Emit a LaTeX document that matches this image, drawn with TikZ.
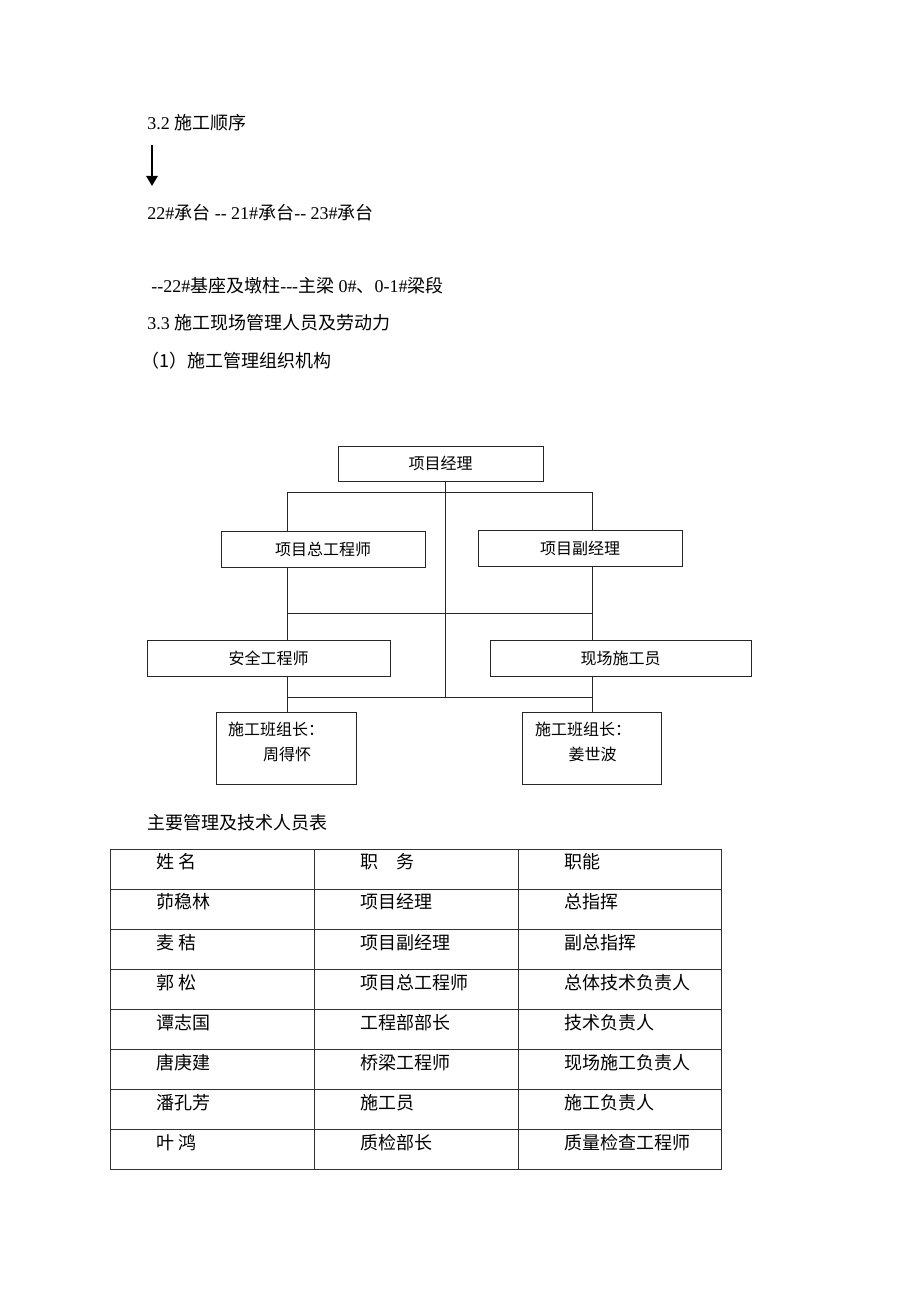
\documentclass[tikz,border=0pt]{standalone}
\usepackage{fontspec}
\setmainfont{Liberation Serif}
\newfontfamily\cjk{Noto Sans CJK SC}
\usepackage{tikz}
\usetikzlibrary{arrows.meta}
\newcommand\pxl[1]{#1*0.75pt}

\begin{document}
\begin{tikzpicture}[x=0.75pt,y=-0.75pt,
	body/.style={anchor=west,inner sep=0pt,font=\fontsize{13.5}{16}\selectfont},
	post/.style={draw=black!85,line width=0.65pt,inner sep=0pt,font=\fontsize{12}{14}\selectfont\cjk},
	cell/.style={anchor=west,inner sep=0pt,font=\fontsize{13.5}{16}\selectfont\cjk},
	link/.style={line width=0.65pt,black!85},
	grid/.style={line width=0.65pt,black!80}]
	\useasboundingbox (0,0) rectangle (920,1302);
	% Sequence
	\node[body] (seqtitle) at (147,123) {3.2 {\cjk 施工顺序}};
	\coordinate (arrtop) at (152,145);
	\coordinate (arrtip) at (152,186);
	\draw[line width=1.3pt,-{Triangle[width=8.5pt,length=7.5pt]}] (arrtop) -- (arrtip);
	\node[body] (seqa) at (147,213) {22\#{\cjk 承台} -\kern0pt- 21\#{\cjk 承台}-\kern0pt- 23\#{\cjk 承台}};
	\node[body] (seqb) at (151,286) {-\kern0pt-22\#{\cjk 基座及墩柱}-\kern0pt-\kern0pt-{\cjk 主梁} 0\#{\cjk 、}0-1\#{\cjk 梁段}};
	\node[body] (stafftitle) at (147,323) {3.3 {\cjk 施工现场管理人员及劳动力}};
	\node[body] (orgtitle) at (141,361) {\cjk （1）施工管理组织机构};
	% Org chart boxes
	\node[post,minimum width={\pxl{205}},minimum height={\pxl{35}}] (pm) at (440.5,463.5) {项目经理};
	\node[post,minimum width={\pxl{204}},minimum height={\pxl{36}}] (chief) at (323,549) {项目总工程师};
	\node[post,minimum width={\pxl{204}},minimum height={\pxl{36}}] (deputy) at (580,548) {项目副经理};
	\node[post,minimum width={\pxl{243}},minimum height={\pxl{36}}] (safety) at (268.5,658) {安全工程师};
	\node[post,minimum width={\pxl{261}},minimum height={\pxl{36}}] (site) at (620.5,658) {现场施工员};
	\node[post,minimum width={\pxl{140}},minimum height={\pxl{72}}] (leadA) at (286,748) {};
	\node[post,minimum width={\pxl{139}},minimum height={\pxl{72}}] (leadB) at (591.5,748) {};
	\node[post,draw=none,anchor=west] (leadAt) at ([shift={(12,18)}]leadA.north west) {施工班组长：};
	\node[post,draw=none] (leadAn) at ([shift={(1,43)}]leadA.north) {周得怀};
	\node[post,draw=none,anchor=west] (leadBt) at ([shift={(13,18)}]leadB.north west) {施工班组长：};
	\node[post,draw=none] (leadBn) at ([shift={(1,43)}]leadB.north) {姜世波};
	% Bus joints
	\coordinate (spine) at (445,492);
	\coordinate (jA1) at (287,492);
	\coordinate (jA2) at (592,492);
	\coordinate (jB1) at (287,613);
	\coordinate (jB2) at (592,613);
	\coordinate (jC1) at (287,697);
	\coordinate (jC2) at (592,697);
	% Connectors
	\draw[link] (spine |- pm.south) -- (spine |- jC1);
	\draw[link] (jA1 |- chief.north) -- (jA1) -- (jA2) -- (jA2 |- deputy.north);
	\draw[link] (jA1 |- chief.south) -- (jB1) -- (jB2) -- (jA2 |- deputy.south);
	\draw[link] (jB1) -- (jB1 |- safety.north);
	\draw[link] (jB2) -- (jB2 |- site.north);
	\draw[link] (jB1 |- safety.south) -- (jC1) -- (jC2) -- (jB2 |- site.south);
	\draw[link] (jC1) -- (jC1 |- leadA.north);
	\draw[link] (jC2) -- (jC2 |- leadB.north);
	% Staff table
	\node[cell] (tabtitle) at (147,823) {主要管理及技术人员表};
	\foreach \r in {0,...,8} \draw[grid] (110,849+40.1*\r) -- (721,849+40.1*\r);
	\foreach \x in {110,314,518,721} \draw[grid] (\x,849) -- (\x,1170);
	\foreach \nm/\job/\role [count=\r from 0] in {姓 名/职　务/职能, 茆稳林/项目经理/总指挥, 麦 秸/项目副经理/副总指挥, 郭 松/项目总工程师/总体技术负责人, 谭志国/工程部部长/技术负责人, 唐庚建/桥梁工程师/现场施工负责人, 潘孔芳/施工员/施工负责人, 叶 鸿/质检部长/质量检查工程师}{
		\node[cell] (name-\r) at (156,862+40.1*\r) {\nm};
		\node[cell] (job-\r) at (360,862+40.1*\r) {\job};
		\node[cell] (role-\r) at (564,862+40.1*\r) {\role};}
\end{tikzpicture}
\end{document}
